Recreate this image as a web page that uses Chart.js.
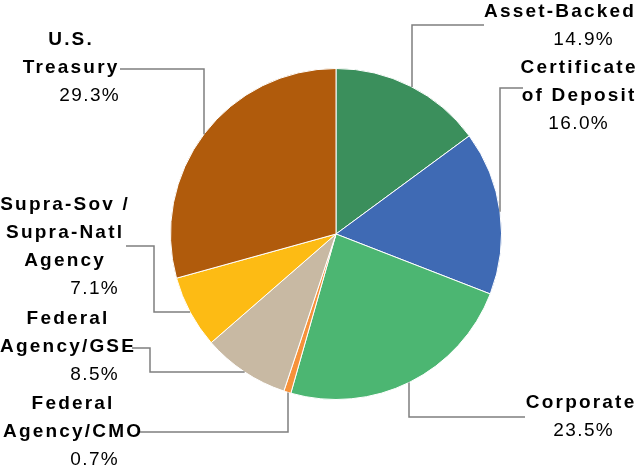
<!DOCTYPE html>
<html>
<head>
<meta charset="utf-8">
<script src="https://cdn.jsdelivr.net/npm/chart.js@4/dist/chart.umd.min.js"></script>
<style>
  html, body { margin: 0; padding: 0; background: #fff; }
  #wrap { width: 635px; height: 471px; position: relative; }
</style>
</head>
<body>
<div id="wrap"><canvas id="pie"></canvas></div>
<script>
const categories = ["Asset-Backed", "Certificate of Deposit", "Corporate", "Federal Agency/CMO",
  "Federal Agency/GSE", "Supra-Sov / Supra-Natl Agency", "U.S. Treasury"];
const shares = [14.9, 16.0, 23.5, 0.7, 8.5, 7.1, 29.3];
const colors = ["#3b8f5c", "#3f6ab4", "#4cb672", "#f7923a", "#c8b9a3", "#fdbb14", "#b05b0c"];

// label text lines (bold name lines, then the share)
const labelLines = [
  ["Asset-Backed"],
  ["Certificate", "of Deposit"],
  ["Corporate"],
  ["Federal", "Agency/CMO"],
  ["Federal", "Agency/GSE"],
  ["Supra-Sov /", "Supra-Natl", "Agency"],
  ["U.S.", "Treasury"]
];

// where each label sits: center x of name lines, center x of pct, y of first line
const labelPos = [
  { x: 559, px: 583, y: 12 },
  { x: 578, px: 578, y: 68 },
  { x: 580, px: 583, y: 403 },
  { x: 72, px: 94, y: 404 },
  { x: 67, px: 94, y: 319 },
  { x: 64, px: 94, y: 205 },
  { x: 70, px: 89, y: 40 }
];

// leader lines: fixed points from label, last move ("v" or "h") runs until it meets the slice edge
const leaders = [
  { pts: [[484, 25], [412, 25]], end: "v" },
  { pts: [[523, 88], [500, 88]], end: "v" },
  { pts: [[525, 417], [409, 417]], end: "v" },
  { pts: [[140, 432], [288, 432]], end: "v" },
  { pts: [[132, 348], [150, 348], [150, 372]], end: "h" },
  { pts: [[126, 246], [154, 246], [154, 312]], end: "h" },
  { pts: [[120, 69], [204, 69]], end: "v" }
];

const labelPlugin = {
  id: "sideLabels",
  afterDatasetsDraw(chart) {
    const ctx = chart.ctx;
    const arcs = chart.getDatasetMeta(0).data;
    const cx = arcs[0].x, cy = arcs[0].y, r = arcs[0].outerRadius;
    ctx.save();
    ctx.strokeStyle = "#7f7f7f";
    ctx.lineWidth = 1.5;
    leaders.forEach(l => {
      const last = l.pts[l.pts.length - 1];
      let endPt;
      if (l.end === "v") {
        const dy = Math.sqrt(Math.max(r * r - (last[0] - cx) ** 2, 0));
        endPt = [last[0], last[1] < cy ? cy - dy : cy + dy];
      } else {
        const dx = Math.sqrt(Math.max(r * r - (last[1] - cy) ** 2, 0));
        endPt = [last[0] < cx ? cx - dx : cx + dx, last[1]];
      }
      ctx.beginPath();
      ctx.moveTo(l.pts[0][0], l.pts[0][1]);
      l.pts.slice(1).forEach(p => ctx.lineTo(p[0], p[1]));
      ctx.lineTo(endPt[0], endPt[1]);
      ctx.stroke();
    });

    ctx.fillStyle = "#000";
    ctx.textAlign = "center";
    ctx.textBaseline = "middle";
    labelLines.forEach((lines, i) => {
      const p = labelPos[i];
      ctx.font = "bold 19px 'Liberation Sans', Arial, sans-serif";
      ctx.letterSpacing = "2.2px";
      lines.forEach((t, k) => ctx.fillText(t, p.x + 1.1, p.y + k * 28));
      ctx.font = "19px 'Liberation Sans', Arial, sans-serif";
      ctx.letterSpacing = "1.4px";
      ctx.fillText(shares[i].toFixed(1) + "%", p.px + 0.7, p.y + lines.length * 28);
    });
    ctx.restore();
  }
};

new Chart(document.getElementById("pie"), {
  type: "pie",
  data: {
    labels: categories,
    datasets: [{
      data: shares,
      backgroundColor: colors,
      borderColor: "#ffffff",
      borderWidth: 1
    }]
  },
  options: {
    responsive: true,
    maintainAspectRatio: false,
    animation: false,
    layout: { padding: { left: 170, right: 133, top: 68, bottom: 71 } },
    plugins: {
      legend: { display: false },
      tooltip: { enabled: false }
    }
  },
  plugins: [labelPlugin]
});
</script>
</body>
</html>
